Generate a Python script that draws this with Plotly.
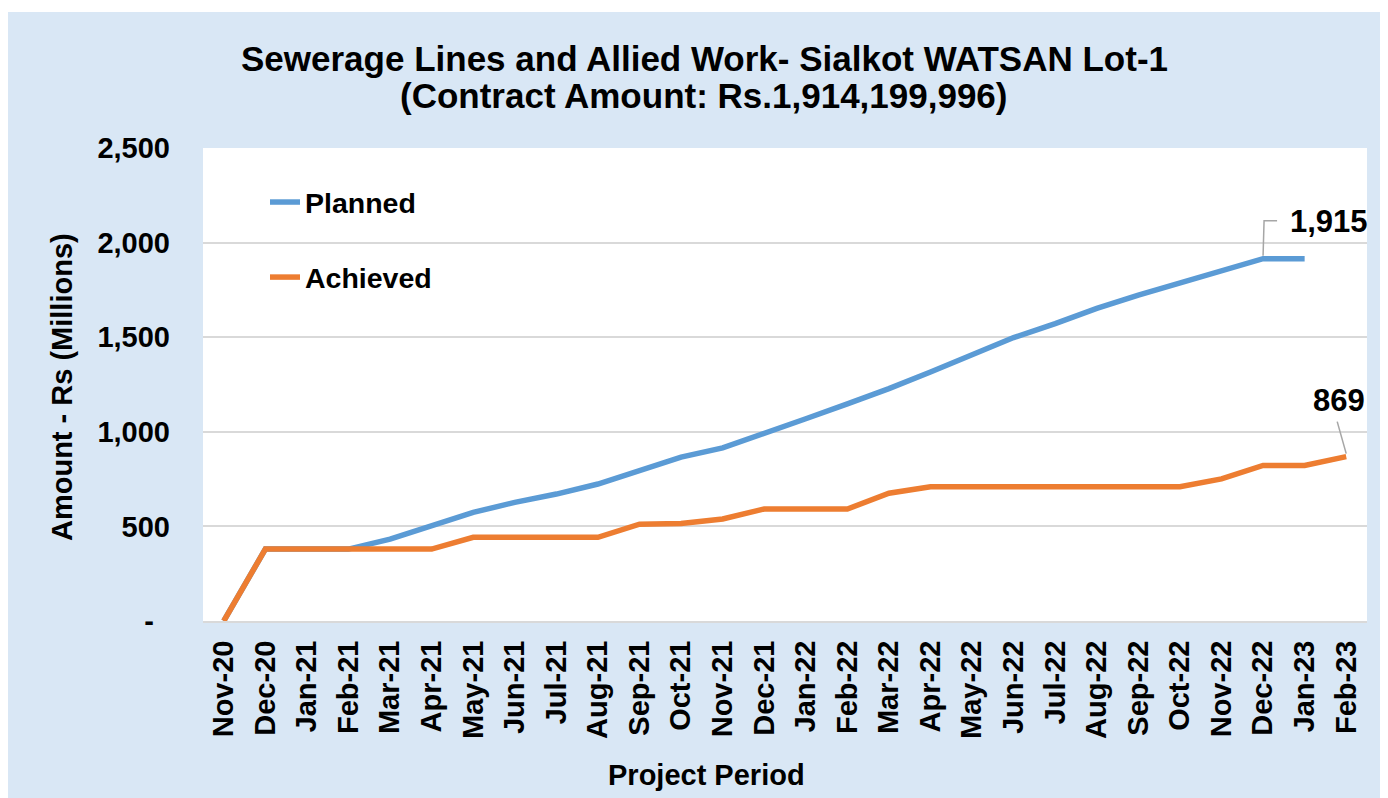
import plotly.graph_objects as go

months = ["Nov-20", "Dec-20", "Jan-21", "Feb-21", "Mar-21", "Apr-21", "May-21", "Jun-21",
          "Jul-21", "Aug-21", "Sep-21", "Oct-21", "Nov-21", "Dec-21", "Jan-22", "Feb-22",
          "Mar-22", "Apr-22", "May-22", "Jun-22", "Jul-22", "Aug-22", "Sep-22", "Oct-22",
          "Nov-22", "Dec-22", "Jan-23", "Feb-23"]

planned = [0, 380, 380, 380, 433, 504, 574, 627, 671, 724, 795, 866, 915, 989, 1069, 1148,
           1228, 1316, 1405, 1498, 1572, 1652, 1723, 1788, 1855, 1915, 1915, None]

achieved = [0, 380, 380, 380, 380, 380, 442, 442, 442, 442, 512, 515, 539, 592, 592, 592,
            675, 710, 710, 710, 710, 710, 710, 710, 751, 822, 822, 869]

ytick_vals = [0, 500, 1000, 1500, 2000, 2500]
ytick_text = ["-\u00a0\u00a0", "500", "1,000", "1,500", "2,000", "2,500"]

title_line1 = "Sewerage Lines and Allied Work- Sialkot WATSAN Lot-1"
title_line2 = "(Contract Amount: Rs.1,914,199,996)"

FONT = "Liberation Sans, Arial, sans-serif"
BLUE = "#5b9bd5"
ORANGE = "#ed7d31"

fig = go.Figure()
fig.add_trace(go.Scatter(x=months, y=planned, mode="lines", name="Planned",
                         line=dict(color=BLUE, width=5.5), legendgroup="p"))
fig.add_trace(go.Scatter(x=months, y=achieved, mode="lines", name="Achieved",
                         line=dict(color=ORANGE, width=5.5), legendgroup="a"))

W, H = 1388, 798
OFF = 8  # page body margin
L, R, T, B = 195, 29, 140, 185
pw, ph = W - L - R, H - T - B

def sx(px):
    # screen x pixel -> paper fraction
    return (px - OFF - L) / pw

def sy(py):
    # screen y pixel -> paper fraction
    return (H - B - (py - OFF)) / ph

fig.update_layout(
    width=W, height=H,
    margin=dict(l=L, r=R, t=T, b=B, pad=0),
    paper_bgcolor="#d9e7f5",
    plot_bgcolor="white",
    font=dict(family=FONT, color="black"),
    showlegend=True,
    legend=dict(x=sx(265), y=sy(177), xanchor="left", yanchor="top",
                bgcolor="rgba(0,0,0,0)", tracegroupgap=35,
                font=dict(size=28.5, family=FONT, weight="bold")),
    xaxis=dict(type="category", range=[-0.5, len(months) - 0.5],
               tickangle=-90, tickfont=dict(size=29, family=FONT, weight="bold"),
               showgrid=False, showline=True, linecolor="#d9d9d9", linewidth=2,
               ticks="", ticklabelstandoff=6),
    yaxis=dict(range=[0, 2500], tickvals=ytick_vals, ticktext=ytick_text,
               tickfont=dict(size=29, family=FONT, weight="bold"),
               showgrid=True, gridcolor="#d9d9d9", gridwidth=2,
               zeroline=False, showline=False, ticks="", ticklabelstandoff=32),
)

# thin white strip at the top of the slide background
fig.add_shape(type="rect", xref="paper", yref="paper", layer="below",
              x0=sx(0), x1=sx(W + OFF), y0=sy(12), y1=sy(0),
              fillcolor="white", line=dict(width=0))

# titles
fig.add_annotation(text="<b>" + title_line1 + "</b>", xref="paper", yref="paper",
                   x=sx(704), y=sy(58), xanchor="center", yanchor="middle",
                   showarrow=False, font=dict(size=35, family=FONT))
fig.add_annotation(text="<b>" + title_line2 + "</b>", xref="paper", yref="paper",
                   x=sx(704), y=sy(95), xanchor="center", yanchor="middle",
                   showarrow=False, font=dict(size=35, family=FONT))
fig.add_annotation(text="<b>Amount - Rs (Millions)</b>", xref="paper", yref="paper",
                   x=sx(62), y=sy(387), xanchor="center", yanchor="middle",
                   textangle=-90, showarrow=False, font=dict(size=29, family=FONT))
fig.add_annotation(text="<b>Project Period</b>", xref="paper", yref="paper",
                   x=sx(706), y=sy(775), xanchor="center", yanchor="middle",
                   showarrow=False, font=dict(size=29, family=FONT))

# data labels with leader lines
i_p = 25
fig.add_annotation(text="<b>{:,}</b>".format(planned[i_p]), x=months[i_p], y=planned[i_p],
                   xref="x", yref="y", xshift=66, yshift=37, showarrow=False,
                   font=dict(size=31, family=FONT))
fig.add_shape(type="path", xref="x", yref="y", xsizemode="pixel", ysizemode="pixel",
              xanchor=months[i_p], yanchor=planned[i_p],
              path="M0,3 L1,38 L14,38", line=dict(color="#a6a6a6", width=1.5))

i_a = len(months) - 1
fig.add_annotation(text="<b>{:,}</b>".format(achieved[i_a]), x=months[i_a], y=achieved[i_a],
                   xref="x", yref="y", xshift=-7, yshift=56, showarrow=False,
                   font=dict(size=31, family=FONT))
fig.add_shape(type="path", xref="x", yref="y", xsizemode="pixel", ysizemode="pixel",
              xanchor=months[i_a], yanchor=achieved[i_a],
              path="M0,3 L-9,35", line=dict(color="#a6a6a6", width=1.5))

fig.write_html("out.html")
